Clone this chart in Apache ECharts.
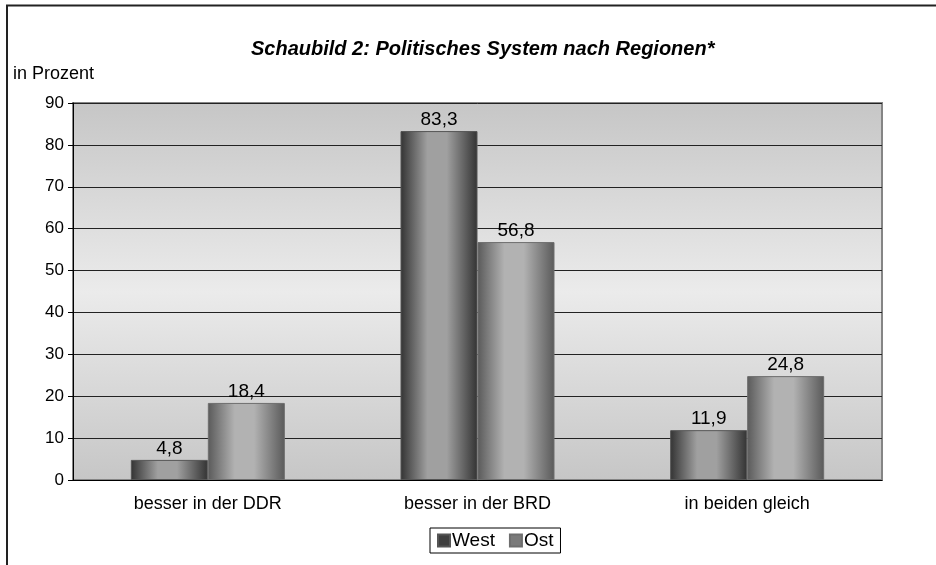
<!DOCTYPE html>
<html>
<head>
<meta charset="utf-8">
<script src="https://cdn.jsdelivr.net/npm/echarts@6/dist/echarts.min.js"></script>
<style>
  html, body { margin: 0; padding: 0; background: #fff; }
  #chart { width: 936px; height: 565px; }
</style>
</head>
<body>
<div id="chart"></div>
<script>
// Daten aus dem Schaubild
const categories = ['besser in der DDR', 'besser in der BRD', 'in beiden gleich'];
const westValues = [4.8, 83.3, 11.9];
const ostValues = [18.4, 56.8, 24.8];
const seriesNames = ['West', 'Ost'];

const chart = echarts.init(document.getElementById('chart'));

// horizontaler Zylinder-Verlauf
function barGradient(edge, mid) {
    return new echarts.graphic.LinearGradient(0, 0, 1, 0, [
        { offset: 0, color: edge },
        { offset: 0.35, color: mid },
        { offset: 0.6, color: mid },
        { offset: 1, color: edge }
    ]);
}

const labelFmt = p => String(p.value).replace('.', ',');
const FONT = 'Liberation Sans, Arial, sans-serif';

const option = {
    animation: false,
    textStyle: { fontFamily: FONT },
    title: {
        text: 'Schaubild 2: Politisches System nach Regionen*',
        left: 246,
        top: 34,
        textStyle: { fontSize: 20, fontStyle: 'italic', fontWeight: 'bold', color: '#000' }
    },
    graphic: [
        {
            type: 'polyline',
            shape: { points: [[7, 565], [7, 5.5], [936, 5.5]] },
            style: { fill: 'none', stroke: '#222', lineWidth: 2 },
            silent: true
        },
        {
            type: 'text',
            left: 13,
            top: 65,
            style: { text: 'in Prozent', fontSize: 18, fill: '#000', fontFamily: FONT }
        }
    ],
    legend: {
        bottom: 12,
        left: 430,
        itemWidth: 12,
        itemHeight: 12,
        itemGap: 14,
        padding: [3, 7],
        borderColor: '#000',
        borderWidth: 1,
        icon: 'rect',
        textStyle: { fontSize: 19, color: '#000', padding: [0, 0, 0, -3] },
        data: [
            { name: 'West', itemStyle: { color: '#3f3f3f' } },
            { name: 'Ost', itemStyle: { color: '#7a7a7a' } }
        ]
    },
    grid: {
        left: 73,
        right: 54,
        top: 103,
        bottom: 85,
        show: true,
        borderWidth: 2,
        borderColor: '#858585',
        backgroundColor: new echarts.graphic.LinearGradient(0, 0, 0, 1, [
            { offset: 0, color: '#c6c6c6' },
            { offset: 0.5, color: '#ebebeb' },
            { offset: 1, color: '#c6c6c6' }
        ])
    },
    xAxis: {
        type: 'category',
        data: categories,
        axisLine: { lineStyle: { color: '#000', width: 1 } },
        axisTick: { show: false },
        axisLabel: { fontSize: 18, color: '#000', margin: 15 }
    },
    yAxis: {
        type: 'value',
        min: 0,
        max: 90,
        interval: 10,
        axisLine: { show: true, lineStyle: { color: '#000' } },
        axisTick: { show: true, inside: false, length: 5, lineStyle: { color: '#000' } },
        axisLabel: { fontSize: 17, color: '#000', margin: 9 },
        splitLine: { lineStyle: { color: '#222', width: 1 } }
    },
    series: [
        {
            name: 'West',
            type: 'bar',
            data: westValues,
            barWidth: 77,
            barGap: '0%',
            itemStyle: {
                color: barGradient('#333333', '#a0a0a0'),
                borderColor: '#555',
                borderWidth: 1
            },
            label: { show: true, position: 'top', distance: 2, fontSize: 19, color: '#000', formatter: labelFmt }
        },
        {
            name: 'Ost',
            type: 'bar',
            data: ostValues,
            barWidth: 77,
            itemStyle: {
                color: barGradient('#5a5a5a', '#b2b2b2'),
                borderColor: '#6e6e6e',
                borderWidth: 1
            },
            label: { show: true, position: 'top', distance: 2, fontSize: 19, color: '#000', formatter: labelFmt }
        }
    ]
};

chart.setOption(option);
</script>
</body>
</html>
